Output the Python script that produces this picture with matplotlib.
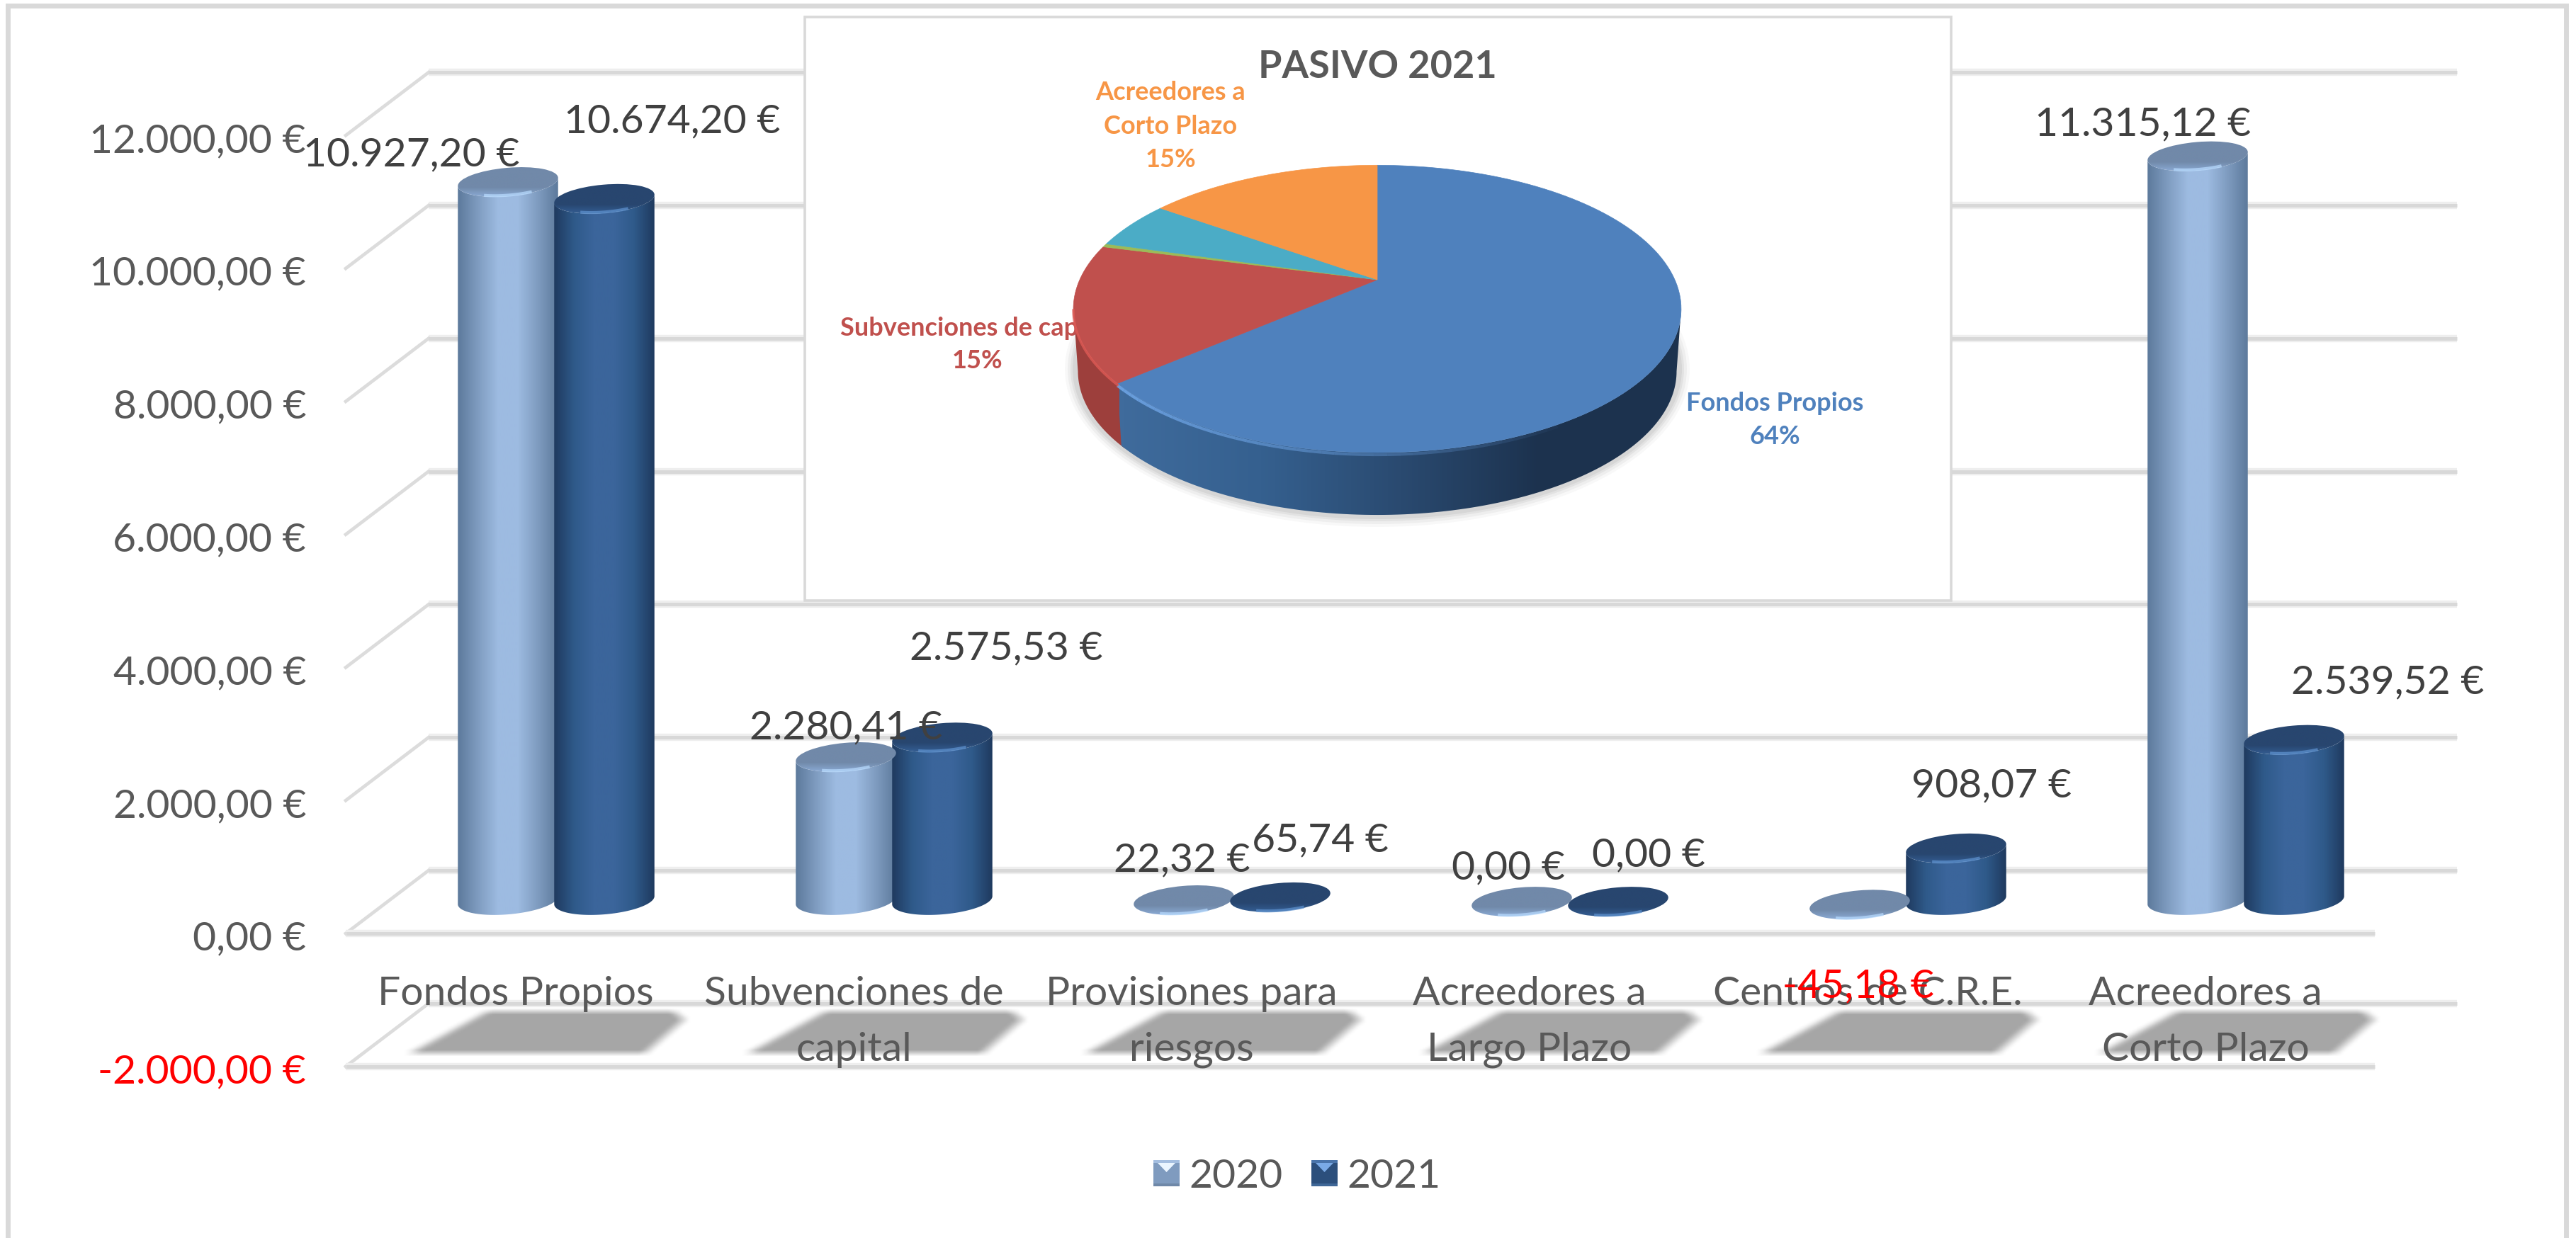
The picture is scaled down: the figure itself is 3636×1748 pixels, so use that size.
#!/usr/bin/env python3
import numpy as np
import matplotlib
matplotlib.use("Agg")
import matplotlib.pyplot as plt
from matplotlib.colors import LinearSegmentedColormap
from matplotlib.patches import Ellipse, Polygon, Rectangle
from matplotlib.path import Path

categories = [
    ["Fondos Propios"],
    ["Subvenciones de", "capital"],
    ["Provisiones para", "riesgos"],
    ["Acreedores a", "Largo Plazo"],
    ["Centros de C.R.E."],
    ["Acreedores a", "Corto Plazo"],
]
values_2020 = [10927.20, 2280.41, 22.32, 0.00, -45.18, 11315.12]
values_2021 = [10674.20, 2575.53, 65.74, 0.00, 908.07, 2539.52]
labels_2020 = ["10.927,20 €", "2.280,41 €", "22,32 €", "0,00 €", "-45,18 €", "11.315,12 €"]
labels_2021 = ["10.674,20 €", "2.575,53 €", "65,74 €", "0,00 €", "908,07 €", "2.539,52 €"]
axis_ticks = [12000, 10000, 8000, 6000, 4000, 2000, 0, -2000]
axis_labels = ["12.000,00 €", "10.000,00 €", "8.000,00 €", "6.000,00 €",
               "4.000,00 €", "2.000,00 €", "0,00 €", "-2.000,00 €"]
series_names = ["2020", "2021"]
pie_title = "PASIVO 2021"
pie_colors = ["#4F81BD", "#C0504D", "#9BBB59", "#8064A2", "#4BACC6", "#F79646"]

W, H = 3637, 1749
GREY = "#595959"
DARK = "#404040"

# label centres in pixels, they were placed by hand in the original
pos_2020 = [(581, 215), (1194, 1024), (1668, 1211), (2129, 1222), (2623, 1389), (3025, 172)]
pos_2021 = [(949, 168), (1420, 912), (1863, 1183), (2327, 1204), (2811, 1106), (3370, 960)]

plt.rcParams["font.family"] = ["Lato", "DejaVu Sans"]

fig = plt.figure(figsize=(W / 100, H / 100), dpi=100, facecolor="white")

# value axes, only used as the scale from euros and categories to pixels
ax = fig.add_axes([0, 0, 1, 1])
ax.set_xlim((0 - 785) / 477, (W - 785) / 477)
ax.set_ylim((1284 - H) / 0.0939, 1284 / 0.0939)
ax.set_axis_off()

px = fig.add_axes([0, 0, 1, 1])
px.set_xlim(0, W)
px.set_ylim(H, 0)
px.set_autoscale_on(False)
px.patch.set_alpha(0)
px.set_axis_off()


def to_px(cat, val):
    x, y = ax.transData.transform((cat, val))
    return x, H - y


def text(x, y, s, size=41, color=GREY, ha="center", **kw):
    # y is the middle of the digits
    return px.text(x, y + size * 0.48, s, fontsize=size, color=color, ha=ha, va="baseline", **kw)


def gradient(stops, extent, clip, vertical=False, zorder=3):
    cmap = LinearSegmentedColormap.from_list("g", stops)
    g = np.linspace(0, 1, 128)
    g = g.reshape(-1, 1) if vertical else g.reshape(1, -1)
    im = px.imshow(g, cmap=cmap, extent=extent, aspect="auto", zorder=zorder,
                   vmin=0, vmax=1, interpolation="bilinear")
    clip.set_transform(px.transData)
    im.set_clip_path(clip)


def grid_line(x0, x1, y):
    px.plot([x0, x1], [y, y], color="#eeeeee", lw=7.5, solid_capstyle="butt", zorder=1)
    px.plot([x0, x1], [y, y], color="#d8d8d8", lw=3.6, solid_capstyle="butt", zorder=1.1)


def draw_walls():
    px.add_patch(Rectangle((11, 9), 3611, H + 20, fc="white", ec="#d9d9d9", lw=5, zorder=0))
    for v in axis_ticks:
        _, y = to_px(0, v)
        back, front = y - 54, y + 35
        grid_line(605, 3468, back)
        px.plot([488, 605], [front, back], color="#dcdcdc", lw=3.4, zorder=1)
        if v <= 0:
            grid_line(488, 3352, front)


def box_blur(a, n, axis):
    kernel = np.ones(n) / n
    return np.apply_along_axis(lambda r: np.convolve(r, kernel, mode="same"), axis, a)


def draw_floor_shadows():
    # blurred grey shapes on the floor, one per category
    x0, x1, y0, y1 = 520, 3480, 1400, 1515
    xx, yy = np.meshgrid(np.arange(x0, x1), np.arange(y0, y1))
    grid = np.column_stack([xx.ravel(), yy.ravel()])
    mask = np.zeros(xx.shape)
    for i in range(len(categories)):
        cx, _ = to_px(i, 0)
        shape = Path([(cx - 205, 1487), (cx - 96, 1428), (cx + 165, 1428),
                      (cx + 180, 1440), (cx + 125, 1487)])
        mask += shape.contains_points(grid).reshape(xx.shape)
    mask = box_blur(box_blur(mask, 21, 1), 9, 0)
    img = np.zeros(xx.shape + (4,))
    img[..., :3] = 166 / 255
    img[..., 3] = np.clip(mask, 0, 1)
    px.imshow(img, extent=(x0, x1, y1, y0), aspect="auto", zorder=1.5, interpolation="bilinear")


def draw_cylinder(cat, offset, val, side, cap, rim, shine):
    cx, top = to_px(cat, val)
    cx += offset
    rx, ry, tilt = 71, 20, np.radians(-5)
    base = 1272
    flat = val < 200
    if flat:
        top -= 10

    t = np.linspace(0, np.pi, 60)
    ex = rx * np.cos(t)
    ey = ry * np.sin(t)
    lx = ex * np.cos(tilt) - ey * np.sin(tilt)
    ly = ex * np.sin(tilt) + ey * np.cos(tilt)

    if not flat:
        body = np.vstack([
            np.column_stack([cx + lx, base + ly]),
            np.column_stack([cx + lx[::-1], top + ly[::-1]]),
        ])
        # top half of the outline is covered by the cap
        clip = Polygon(body, closed=True)
        gradient(side, (cx - rx, cx + rx, base + 25, top - 25), clip)

    clip = Ellipse((cx, top), 2 * rx, 2 * ry, angle=-5)
    gradient([cap, cap, cap, rim], (cx - rx, cx + rx, top + ry + 3, top - ry - 3), clip, vertical=True, zorder=3.2)
    # small bright spot on the front edge of the cap
    hl = (t > 1.1) & (t < 2.1)
    px.plot(cx + lx[hl] * 0.97, top + ly[hl] * 0.93, color=shine, lw=3, alpha=0.7, zorder=3.3)


def draw_bars():
    side_2020 = ["#5d7a9c", "#7f9cc0", "#9dbbe1", "#9dbbe1", "#7f9cc0", "#5d7a9c"]
    side_2021 = ["#1f3a5f", "#2f5a8a", "#3b659b", "#3b659b", "#2f5a8a", "#1f3a5f"]
    for i in range(len(categories)):
        draw_cylinder(i, -68, values_2020[i], side_2020, "#7189a9", "#8fb0dc", "#b9dcff")
        draw_cylinder(i, 68, values_2021[i], side_2021, "#28466f", "#36629a", "#5f93d0")


def pie_point(theta, drop=0.0, shrink=1.0):
    # projective mapping of the unit circle, the apex sits behind the middle of the ellipse
    u, v = np.sin(theta), np.cos(theta)
    den = 1 + 0.203 * v
    return 1944 + shrink * 420 * u / den, 396 - 194.5 * v / den + drop


def draw_pie():
    px.add_patch(Rectangle((1136, 25), 1618, 824, fc="white", ec="#d9d9d9", lw=2.6, zorder=4))

    # soft shadow under the disc
    for grow, alpha in [(26, 0.05), (18, 0.08), (10, 0.1), (4, 0.12)]:
        px.add_patch(Ellipse((1944, 522), 2 * 428 + grow, 2 * 210 + grow, fc="#808080", ec="none", alpha=alpha, zorder=4.1))

    vals = np.clip(values_2021, 0, None)
    edges = np.concatenate([[0], np.cumsum(vals)]) / vals.sum() * 2 * np.pi

    drop = 88
    blue_end = edges[1]
    left = np.radians(258.3)
    right = np.radians(101.7)

    def wall(a, b):
        t = np.linspace(a, b, 120)
        x0, y0 = pie_point(t)
        x1, y1 = pie_point(t[::-1], drop, 0.985)
        return np.column_stack([np.r_[x0, x1], np.r_[y0, y1]])

    blue_wall = wall(right, blue_end)
    red_wall = wall(blue_end - 0.02, left)
    px.add_patch(Polygon(red_wall, fc="#9d3f3c", ec="none", zorder=5))
    gradient(["#3f6b9c", "#35608f", "#2a4a70", "#1c324e", "#1c324e"],
             (1580, 2375, 800, 400), Polygon(blue_wall), zorder=5)

    for i, col in enumerate(pie_colors):
        if vals[i] == 0:
            continue
        t = np.linspace(edges[i], edges[i + 1], 120)
        x, y = pie_point(t)
        apex = (1944, 396)
        px.add_patch(Polygon(np.column_stack([np.r_[apex[0], x], np.r_[apex[1], y]]), fc=col, ec=col, lw=0.5, zorder=5.2))

    # bevel along the front rim
    t = np.linspace(blue_end, np.radians(150), 40)
    x, y = pie_point(t, 3)
    for j in range(len(t) - 1):
        a = 0.9 * (1 - j / len(t))
        px.plot(x[j:j + 2], y[j:j + 2], color="#6fa5e6", lw=3, alpha=a, solid_capstyle="butt", zorder=5.4)
    t = np.linspace(blue_end, left, 20)
    x, y = pie_point(t, 2)
    px.plot(x, y, color="#dd5a55", lw=2.5, alpha=0.8, zorder=5.4)

    text(1944, 91, pie_title, size=39, weight="bold", zorder=6)
    for s, y in [("Acreedores a", 129), ("Corto Plazo", 177), ("15%", 224)]:
        text(1652, y, s, size=26, color=pie_colors[5], weight="bold", zorder=6)
    # this one is partly hidden by the pie in the original
    text(1379, 462, "Subvenciones de capital", size=26, color=pie_colors[1], weight="bold", zorder=5.1)
    text(1379, 508, "15%", size=26, color=pie_colors[1], weight="bold", zorder=6)
    text(2505, 568, "Fondos Propios", size=26, color=pie_colors[0], weight="bold", zorder=6)
    text(2505, 615, "64%", size=26, color=pie_colors[0], weight="bold", zorder=6)


def draw_text():
    for v, s in zip(axis_ticks, axis_labels):
        _, y = to_px(0, v)
        col = "red" if v < 0 else GREY
        text(432, y + 38, s, color=col, ha="right", zorder=7)

    for i, lines in enumerate(categories):
        cx, _ = to_px(i, 0)
        for k, line in enumerate(lines):
            text(cx - 57, 1399 + k * 79, line, zorder=7)

    for i in range(len(categories)):
        col = "red" if values_2020[i] < 0 else DARK
        text(*pos_2020[i], labels_2020[i], color=col, zorder=7)
        text(*pos_2021[i], labels_2021[i], color=DARK, zorder=7)


def draw_legend():
    items = [
        (1628, 1678, "#7f9bbf", "#a4bee0", "#6f88a8", "#eaf5ff", series_names[0]),
        (1851, 1901, "#2c4f7c", "#4a74aa", "#3f6797", "#7aaae6", series_names[1]),
    ]
    for x, tx, body, top, bottom, tri, name in items:
        px.add_patch(Rectangle((x, 1639), 37, 37, fc=body, ec="none", zorder=6))
        px.add_patch(Rectangle((x, 1639), 37, 4, fc=top, ec="none", zorder=6.1))
        px.add_patch(Rectangle((x, 1672), 37, 4, fc=bottom, ec="none", zorder=6.1))
        px.add_patch(Polygon([(x + 6, 1643), (x + 31, 1643), (x + 18.5, 1656)], fc=tri, ec="none", zorder=6.2))
        text(tx, 1657, name, ha="left", zorder=7)


draw_walls()
draw_floor_shadows()
draw_bars()
draw_pie()
draw_text()
draw_legend()

fig.savefig("out.png", dpi=100)
